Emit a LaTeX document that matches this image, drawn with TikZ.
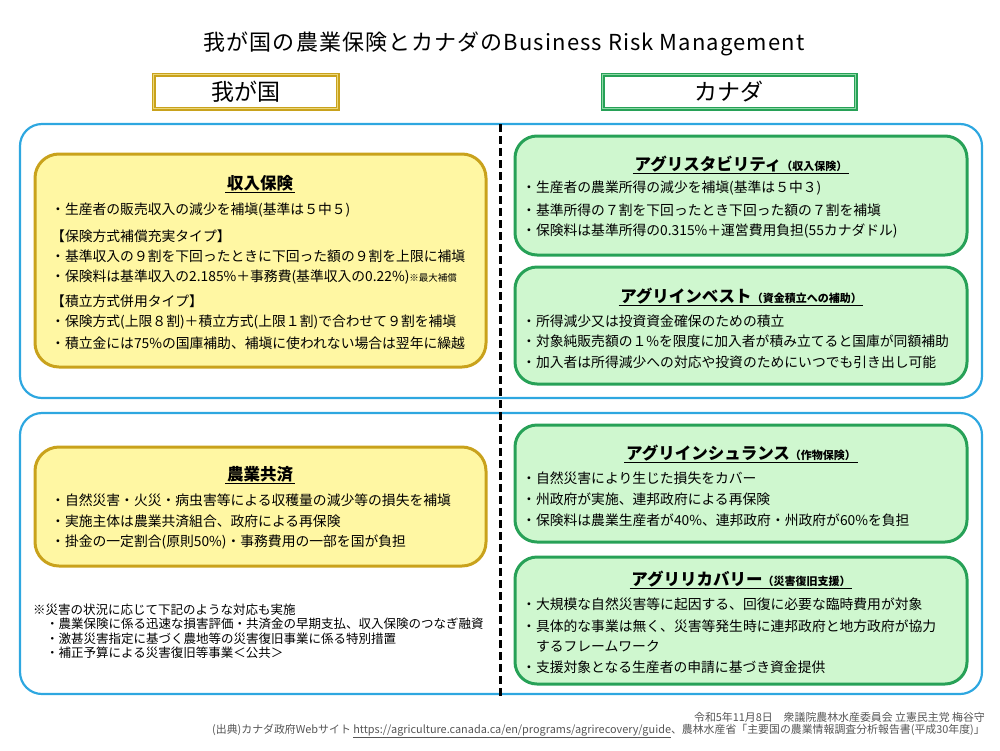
\documentclass[tikz,border=0pt]{standalone}
\usepackage{fontspec}
\setmainfont{Noto Sans CJK JP}
\usetikzlibrary{positioning}

\definecolor{frameblue}{HTML}{2EA7E0}
\definecolor{jpgold}{HTML}{C9A21C}
\definecolor{jplight}{HTML}{EBD77A}
\definecolor{jpfill}{HTML}{FFF7A3}
\definecolor{cagreen}{HTML}{27A157}
\definecolor{calight}{HTML}{8ED9A6}
\definecolor{cafill}{HTML}{CFF7CF}
\definecolor{footgray}{HTML}{555555}

\newcommand{\sub}[1]{{\fontsize{11}{13}\selectfont\bfseries #1}}
\newcommand{\mini}[1]{{\fontsize{9.5}{11}\selectfont #1}}

\tikzset{
  outer/.style={draw=frameblue, line width=2.2, rounded corners=22},
  jpbox/.style={draw=jpgold, fill=jpfill, line width=3, rounded corners=24},
  cabox/.style={draw=cagreen, fill=cafill, line width=3, rounded corners=22},
  jphead/.style={draw=jpgold, double=jplight, line width=1.4, double distance=1.2,
    fill=white, minimum width=184, minimum height=34, inner sep=0,
    font=\fontsize{23}{26}\selectfont},
  cahead/.style={jphead, draw=cagreen, double=calight},
  item/.style={anchor=west, inner sep=0, font=\fontsize{13.8}{16}\selectfont},
  note/.style={anchor=west, inner sep=0, font=\fontsize{12.5}{14}\selectfont},
  head/.style={inner sep=1.5, font=\fontsize{16.5}{19}\selectfont\bfseries},
  foot/.style={anchor=east, inner sep=0, text=footgray, font=\fontsize{10.9}{12}\selectfont},
  uline/.style={line width=1.1},
}

\begin{document}
\begin{tikzpicture}[x=1pt, y=-1pt]
 \useasboundingbox (0,0) rectangle (1000,750);

 % title
 \node[font=\fontsize{22}{26}\selectfont\addfontfeature{LetterSpace=5}] (title) at (504,44)
   {我が国の農業保険とカナダのBusiness Risk Management};

 % headers
 \node[jphead] (jp) at (245.5,91.5) {我が国};
 \node[cahead, minimum width=253] (ca) at (729,91.5) {カナダ};

 % outer frames and divider
 \draw[outer] (20,124) rectangle (982,398);
 \draw[outer] (20,413) rectangle (982,694);
 \coordinate (dtop) at (500,124);
 \coordinate (dbot) at (500,696);
 \draw[line width=3, dash pattern=on 8 off 4] (dtop) -- (dbot);

 % ---- 収入保険
 \draw[jpbox] (35,154) rectangle (486,367);
 \node[head] (inc) at (260,183) {収入保険};
 \draw[uline] (inc.south west) -- (inc.south east);
 \node[item] (inc1) at (51,210) {・生産者の販売収入の減少を補塡(基準は５中５)};
 \node[item] (inc2) at (51,236) {【保険方式補償充実タイプ】};
 \node[item] (inc3) at (51,256) {・基準収入の９割を下回ったときに下回った額の９割を上限に補塡};
 \node[item] (inc4) at (51,277) {・保険料は基準収入の2.185\%＋事務費(基準収入の0.22\%)\mini{※最大補償}};
 \node[item] (inc5) at (51,301) {【積立方式併用タイプ】};
 \node[item] (inc6) at (51,322) {・保険方式(上限８割)＋積立方式(上限１割)で合わせて９割を補塡};
 \node[item] (inc7) at (51,343) {・積立金には75\%の国庫補助、補塡に使われない場合は翌年に繰越};

 % ---- 農業共済
 \draw[jpbox] (35,447) rectangle (486,566);
 \node[head] (mut) at (260,474) {農業共済};
 \draw[uline] (mut.south west) -- (mut.south east);
 \node[item] (mut1) at (51,500) {・自然災害・火災・病虫害等による収穫量の減少等の損失を補塡};
 \node[item] (mut2) at (51,521) {・実施主体は農業共済組合、政府による再保険};
 \node[item] (mut3) at (51,542) {・掛金の一定割合(原則50\%)・事務費用の一部を国が負担};

 % notes
 \node[note] (nt0) at (33,610) {※災害の状況に応じて下記のような対応も実施};
 \node[note] (nt1) at (46,624) {・農業保険に係る迅速な損害評価・共済金の早期支払、収入保険のつなぎ融資};
 \node[note] (nt2) at (46,639) {・激甚災害指定に基づく農地等の災害復旧事業に係る特別措置};
 \node[note] (nt3) at (46,653) {・補正予算による災害復旧等事業＜公共＞};

 % ---- AgriStability
 \draw[cabox] (515,136) rectangle (967,255);
 \node[head] (stb) at (741,164) {アグリスタビリティ\sub{（収入保険）}};
 \draw[uline] (stb.south west) -- (stb.south east);
 \node[item] (stb1) at (522,188) {・生産者の農業所得の減少を補塡(基準は５中３)};
 \node[item] (stb2) at (522,210) {・基準所得の７割を下回ったとき下回った額の７割を補塡};
 \node[item] (stb3) at (522,231) {・保険料は基準所得の0.315\%＋運営費用負担(55カナダドル)};

 % ---- AgriInvest
 \draw[cabox] (515,267) rectangle (967,384);
 \node[head] (inv) at (741,296) {アグリインベスト\sub{（資金積立への補助）}};
 \draw[uline] (inv.south west) -- (inv.south east);
 \node[item] (inv1) at (522,321) {・所得減少又は投資資金確保のための積立};
 \node[item] (inv2) at (522,341) {・対象純販売額の１\%を限度に加入者が積み立てると国庫が同額補助};
 \node[item] (inv3) at (522,362) {・加入者は所得減少への対応や投資のためにいつでも引き出し可能};

 % ---- AgriInsurance
 \draw[cabox] (515,425) rectangle (967,542);
 \node[head] (ins) at (741,453) {アグリインシュランス\sub{（作物保険）}};
 \draw[uline] (ins.south west) -- (ins.south east);
 \node[item] (ins1) at (522,478) {・自然災害により生じた損失をカバー};
 \node[item] (ins2) at (522,499) {・州政府が実施、連邦政府による再保険};
 \node[item] (ins3) at (522,520) {・保険料は農業生産者が40\%、連邦政府・州政府が60\%を負担};

 % ---- AgriRecovery
 \draw[cabox] (515,557) rectangle (967,684);
 \node[head] (rec) at (741,579) {アグリリカバリー\sub{（災害復旧支援）}};
 \draw[uline] (rec.south west) -- (rec.south east);
 \node[item] (rec1) at (522,604) {・大規模な自然災害等に起因する、回復に必要な臨時費用が対象};
 \node[item] (rec2) at (522,626) {・具体的な事業は無く、災害等発生時に連邦政府と地方政府が協力};
 \node[item] (rec3) at (522,646) {\phantom{・}するフレームワーク};
 \node[item] (rec4) at (522,667) {・支援対象となる生産者の申請に基づき資金提供};

 % footer
 \node[foot] (ft1) at (985,717) {令和5年11月8日　衆議院農林水産委員会 立憲民主党 梅谷守};
 \node[foot] (ft2) at (985,731)
   {(出典)カナダ政府Webサイト \underline{https://agriculture.canada.ca/en/programs/agrirecovery/guide}、農林水産省「主要国の農業情報調査分析報告書(平成30年度)」};
\end{tikzpicture}
\end{document}
